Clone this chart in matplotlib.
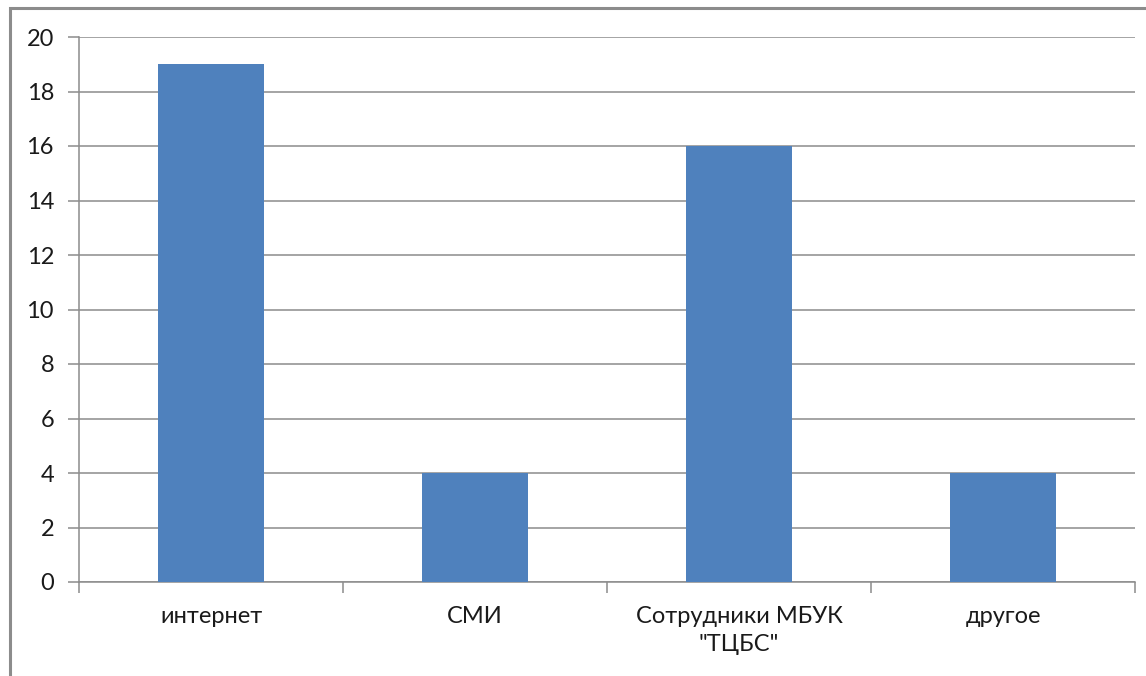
import matplotlib
matplotlib.use("Agg")
import matplotlib.pyplot as plt
from matplotlib.patches import Rectangle
import numpy as np

categories = ["интернет", "СМИ", "Сотрудники МБУК\n\"ТЦБС\"", "другое"]
values = [19, 4, 16, 4]
yticks = [0, 2, 4, 6, 8, 10, 12, 14, 16, 18, 20]

plt.rcParams['font.family'] = ['Lato', 'DejaVu Sans']

W, H = 1146, 676
fig = plt.figure(figsize=(W / 100, H / 100), dpi=100)
fig.patch.set_facecolor('white')

# outer chart frame
fig.add_artist(Rectangle((10 / W, -0.05), 1.2, 1 - 8 / H + 0.05, transform=fig.transFigure,
                         fill=False, edgecolor='#8c8c8c', linewidth=2.2))

ax = fig.add_axes([79 / W, 1 - 582 / H, (1135 - 79) / W, (582 - 37) / H])
x = np.arange(len(categories))
ax.bar(x, values, width=0.4, color='#4F81BD', zorder=3)

ax.set_xlim(-0.5, len(categories) - 0.5)
ax.set_ylim(0, 20)
ax.set_yticks(yticks)
ax.set_yticklabels([str(t) for t in yticks], fontsize=17, color='#1a1a1a')
ax.yaxis.grid(True, color='#8c8c8c', linewidth=1.1, zorder=0)
ax.set_axisbelow(True)

ax.set_xticks(x)
ax.set_xticklabels(categories, fontsize=17, color='#1a1a1a', linespacing=1.45)
ax.tick_params(axis='x', length=0, pad=17)
ax.set_xticks(np.arange(-0.5, len(categories) + 0.5, 1), minor=True)
ax.tick_params(axis='x', which='minor', length=8, color='#8c8c8c', width=1.1)
ax.tick_params(axis='y', length=8, color='#8c8c8c', width=1.1, pad=10)

for s in ['top', 'right']:
    ax.spines[s].set_visible(False)
for s in ['left', 'bottom']:
    ax.spines[s].set_color('#8c8c8c')
    ax.spines[s].set_linewidth(1.1)

fig.savefig('out.png', dpi=100, facecolor='white')
